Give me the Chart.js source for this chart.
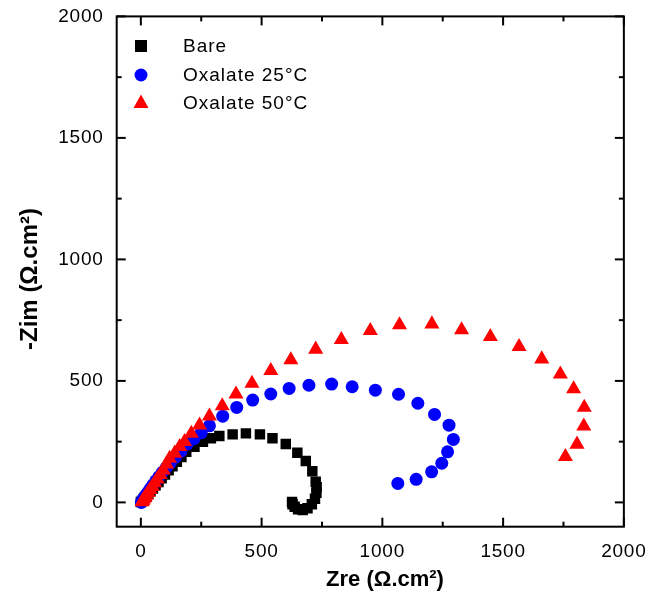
<!DOCTYPE html>
<html>
<head>
<meta charset="utf-8">
<script src="https://cdn.jsdelivr.net/npm/chart.js@4.4.1/dist/chart.umd.min.js"></script>
<style>
  html, body { margin: 0; padding: 0; background: #fff; }
  canvas { display: block; }
</style>
</head>
<body>
<canvas id="nyquist" width="651" height="594"></canvas>
<script>
// Nyquist data (Ω.cm²)
const bareZre = [0, 5, 10, 16, 23, 31, 40, 50, 61, 73, 86, 100, 115, 131, 149, 168, 188, 222, 257, 290,
  325, 380, 435, 493, 545, 600, 648, 683, 710, 724, 728, 727, 721, 708, 690, 670, 651, 637, 628, 626]
const bareZim = [2, 6, 12, 19, 27, 36, 46, 57, 70, 84, 99, 115, 132, 149, 167, 187, 208, 229, 250, 264,
  273, 280, 284, 280, 264, 240, 204, 170, 128, 85, 62, 40, 15, -8, -24, -31, -28, -18, -8, 2]

const ox25Zre = [2, 6, 11, 17, 24, 32, 41, 51, 62, 75, 89, 105, 123, 143, 166, 192, 220, 250, 284, 339,
  397, 463, 538, 614, 696, 790, 875, 971, 1067, 1147, 1216, 1276, 1294, 1270, 1246, 1204, 1140, 1064]
const ox25Zim = [0, 7, 15, 24, 34, 46, 59, 73, 89, 106, 124, 143, 164, 186, 210, 240, 262, 287, 315, 355,
  391, 421, 446, 469, 482, 487, 476, 462, 445, 408, 362, 318, 259, 208, 161, 126, 95, 78]

const ox50Zre = [5, 8, 12, 17, 23, 30, 38, 47, 57, 68, 80, 93, 106, 119, 140, 161, 181, 209, 243, 284,
  337, 394, 460, 538, 621, 724, 830, 950, 1071, 1205, 1328, 1447, 1566, 1660, 1737, 1792, 1836, 1834, 1806, 1758]
const ox50Zim = [2, 7, 13, 20, 29, 40, 52, 65, 80, 96, 114, 133, 157, 181, 202, 229, 250, 284, 318, 355,
  397, 445, 490, 542, 586, 630, 670, 707, 730, 734, 710, 682, 641, 590, 528, 467, 391, 314, 239, 188]

const seriesNames = ['Bare', 'Oxalate 25°C', 'Oxalate 50°C']
const majorTicks = [0, 500, 1000, 1500, 2000]
const minorTicks = [250, 750, 1250, 1750]
const xTitle = 'Zre (Ω.cm²)'
const yTitle = '-Zim (Ω.cm²)'

const FONT = "'Liberation Sans', Arial, sans-serif"
const pts = (xs, ys) => xs.map((x, i) => ({ x, y: ys[i] }))

const styles = [
  { color: '#000000', pointStyle: 'rect', radius: 7.4 },
  { color: '#0000ff', pointStyle: 'circle', radius: 6.5 },
  { color: '#ff0000', pointStyle: 'triangle', radius: 8.7 }
]

const frame = {
  id: 'frame',
  beforeDraw(chart) {
    const ctx = chart.ctx
    ctx.save()
    ctx.fillStyle = '#fff'
    ctx.fillRect(0, 0, chart.width, chart.height)
    ctx.restore()
    ctx.letterSpacing = '0.8px'
  },
  afterDraw(chart) {
    const { ctx, chartArea: a, scales: { x, y } } = chart
    ctx.save()
    ctx.strokeStyle = '#000'
    ctx.lineWidth = 2
    ctx.strokeRect(a.left, a.top, a.right - a.left, a.bottom - a.top)
    const line = (x1, y1, x2, y2) => { ctx.beginPath(); ctx.moveTo(x1, y1); ctx.lineTo(x2, y2); ctx.stroke() }
    const all = majorTicks.map(v => [v, 9]).concat(minorTicks.map(v => [v, 5]))
    all.forEach(([v, len]) => {
      const px = x.getPixelForValue(v)
      line(px, a.bottom, px, a.bottom - len)
      line(px, a.top, px, a.top + len)
      const py = y.getPixelForValue(v)
      line(a.left, py, a.left + len, py)
      line(a.right, py, a.right - len, py)
    })

    // axis titles
    ctx.letterSpacing = '0px'
    ctx.fillStyle = '#000'
    ctx.font = 'bold 22px ' + FONT
    ctx.textAlign = 'center'
    ctx.textBaseline = 'middle'
    ctx.fillText(xTitle, 385, 580)
    ctx.save()
    ctx.font = 'bold 24px ' + FONT
    ctx.translate(30, 279)
    ctx.rotate(-Math.PI / 2)
    ctx.fillText(yTitle, 0, 0)
    ctx.restore()

    // legend
    const rows = [46, 75, 103]
    ctx.font = '19px ' + FONT
    ctx.textBaseline = 'middle'
    ctx.textAlign = 'left'
    ctx.letterSpacing = '1px'
    rows.forEach((ry, i) => {
      const s = styles[i]
      ctx.fillStyle = s.color
      ctx.beginPath()
      if (s.pointStyle === 'rect') {
        ctx.rect(135, ry - 6, 12, 12)
      } else if (s.pointStyle === 'circle') {
        ctx.arc(141, ry, 6.5, 0, Math.PI * 2)
      } else {
        ctx.moveTo(141, ry - 8.5)
        ctx.lineTo(148.5, ry + 5)
        ctx.lineTo(133.5, ry + 5)
        ctx.closePath()
      }
      ctx.fill()
      ctx.fillStyle = '#000'
      ctx.fillText(seriesNames[i], 183, ry + 1)
    })
    ctx.restore()
  }
}

const data = [pts(bareZre, bareZim), pts(ox25Zre, ox25Zim), pts(ox50Zre, ox50Zim)]
const fixTicks = s => { s.ticks = majorTicks.map(v => ({ value: v })) }

new Chart(document.getElementById('nyquist'), {
  type: 'scatter',
  data: {
    datasets: data.map((d, i) => ({
      label: seriesNames[i],
      data: d,
      order: 3 - i,
      pointStyle: styles[i].pointStyle,
      pointRadius: styles[i].radius,
      pointHoverRadius: styles[i].radius,
      pointBackgroundColor: styles[i].color,
      pointBorderColor: styles[i].color,
      pointBorderWidth: 0,
      showLine: false
    }))
  },
  options: {
    responsive: false,
    animation: false,
    layout: { padding: { top: 9.4, right: 16, left: 0, bottom: 0 } },
    plugins: { legend: { display: false }, tooltip: { enabled: false } },
    scales: {
      x: {
        type: 'linear', min: -100, max: 2000,
        grid: { display: false }, border: { display: false },
        ticks: { padding: 6, maxRotation: 0, color: '#000', font: { family: FONT, size: 19 }, callback: v => String(v) },
        afterBuildTicks: fixTicks,
        afterFit(s) { s.height = 67.3 }
      },
      y: {
        type: 'linear', min: -100, max: 2000,
        grid: { display: false }, border: { display: false },
        ticks: { padding: 5, color: '#000', font: { family: FONT, size: 19 }, callback: v => String(v) },
        afterBuildTicks: fixTicks,
        afterFit(s) { s.width = 116.7 }
      }
    }
  },
  plugins: [frame]
})
</script>
</body>
</html>
